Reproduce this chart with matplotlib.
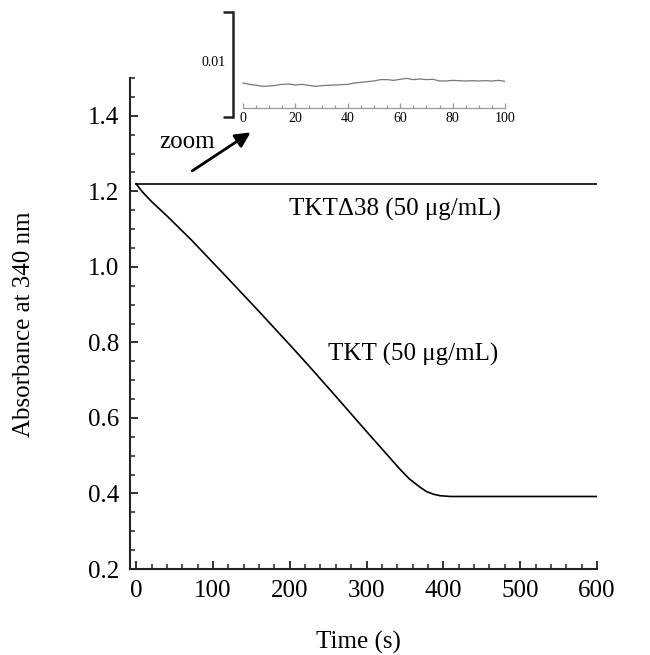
import matplotlib
matplotlib.use("Agg")
import matplotlib.pyplot as plt
from matplotlib.ticker import MultipleLocator

plt.rcParams['font.family'] = ['Liberation Serif', 'DejaVu Serif']

# ---- data ----
tkt_time = [0, 4, 8, 12, 20, 30, 40, 55, 72, 116, 159, 203, 227, 257, 300,
            344, 356, 370, 378, 387, 396, 409, 474, 600]
tkt_abs = [1.22, 1.209, 1.199, 1.190, 1.173, 1.154, 1.135, 1.105, 1.071, 0.977,
           0.884, 0.787, 0.733, 0.664, 0.564, 0.463, 0.438, 0.416, 0.405, 0.398, 0.394,
           0.392, 0.392, 0.392]
d38_time = [0, 600]
d38_abs = [1.22, 1.22]

zoom_time = [0, 2.5, 5, 7.5, 10, 12.5, 15, 17.5, 20, 22.5, 25, 27.5, 30, 32.5, 35, 37.5,
             40, 42.5, 45, 47.5, 50, 52.5, 55, 57.5, 60, 62.5, 65, 67.5, 70, 72.5, 75,
             77.5, 80, 82.5, 85, 87.5, 90, 92.5, 95, 97.5, 100]
zoom_abs = [3.24, 3.11, 3.02, 2.92, 2.95, 3.02, 3.11, 3.14, 3.05, 3.11, 3.02, 2.92, 2.98,
            3.02, 3.05, 3.08, 3.11, 3.24, 3.30, 3.37, 3.43, 3.56, 3.56, 3.49, 3.59, 3.68,
            3.56, 3.62, 3.56, 3.59, 3.43, 3.43, 3.49, 3.46, 3.43, 3.46, 3.43, 3.46, 3.43,
            3.49, 3.40]  # in units of 0.001
zoom_abs = [v * 0.001 for v in zoom_abs]

xticks = [0, 100, 200, 300, 400, 500, 600]
yticks = [0.2, 0.4, 0.6, 0.8, 1.0, 1.2, 1.4]
inset_xticks = [0, 20, 40, 60, 80, 100]

W, H = 650, 655
fig = plt.figure(figsize=(W / 100, H / 100), dpi=100)

# ---- main axes ----
ax = fig.add_axes([130 / W, (H - 569) / H, 467 / W, 491 / H])
ax.plot(d38_time, d38_abs, color='black', lw=1.2)
ax.plot(tkt_time, tkt_abs, color='black', lw=1.2)
ax.set_xlim(-8, 600)
ax.set_ylim(0.2, 1.5)
ax.set_xticks(xticks)
ax.set_yticks(yticks)
ax.set_yticklabels([f"{v:.1f}" for v in yticks])
ax.xaxis.set_minor_locator(MultipleLocator(20))
ax.yaxis.set_minor_locator(MultipleLocator(0.05))
for s in ['top', 'right']:
    ax.spines[s].set_visible(False)
for s in ['left', 'bottom']:
    ax.spines[s].set_linewidth(1.5)
    ax.spines[s].set_color('#222222')
ax.tick_params(which='major', direction='in', length=6, width=1.3, labelsize=18, pad=8, color='#222222')
ax.tick_params(which='minor', direction='in', length=3.5, width=1.1, color='#222222')

fig.text(24 / W, 1 - 324 / H, 'Absorbance at 340 nm', rotation=90, ha='center', va='center', fontsize=18)
fig.text(358 / W, 1 - 642 / H, 'Time (s)', ha='center', va='center', fontsize=18)

ax.text(337, 1.152, 'TKTΔ38 (50 μg/mL)', ha='center', va='center', fontsize=18)
ax.text(360, 0.768, 'TKT (50 μg/mL)', ha='center', va='center', fontsize=18)
ax.text(30, 1.33, 'zoom', ha='left', va='center', fontsize=18)
ax.annotate('', xy=(152, 1.36), xytext=(70, 1.25),
            arrowprops=dict(arrowstyle='-|>,head_length=0.9,head_width=0.45', color='black', lw=2))

# ---- inset ----
ins = fig.add_axes([233 / W, (H - 117) / H, 272 / W, 105 / H])
ins.patch.set_alpha(0)
ins.plot(zoom_time, zoom_abs, color='#777777', lw=0.9)
ins.set_xlim(-3.82, 100)
ins.set_ylim(0, 0.01)
for s in ['top', 'right']:
    ins.spines[s].set_visible(False)
ins.spines['left'].set_linewidth(1.8)
ins.spines['left'].set_color('#222222')
ins.spines['bottom'].set_position(('data', 0.00086))
ins.spines['bottom'].set_bounds(0, 100)
ins.spines['bottom'].set_color('#999999')
ins.spines['bottom'].set_linewidth(0.9)
ins.set_yticks([0, 0.01])
ins.set_yticklabels([])
ins.tick_params(axis='y', direction='out', length=7, width=1.8, color='#222222')
ins.set_xticks(inset_xticks)
ins.set_xticklabels([str(v) for v in inset_xticks])
ins.xaxis.set_minor_locator(MultipleLocator(5))
ins.tick_params(axis='x', which='major', direction='in', length=3.5, width=0.9, color='#999999',
                labelsize=10, pad=3)
ins.tick_params(axis='x', which='minor', direction='in', length=2, width=0.9, color='#999999')
ins.text(-6.5, 0.0052, '0.01', ha='right', va='center', fontsize=10)

fig.savefig('out.png', dpi=100)
